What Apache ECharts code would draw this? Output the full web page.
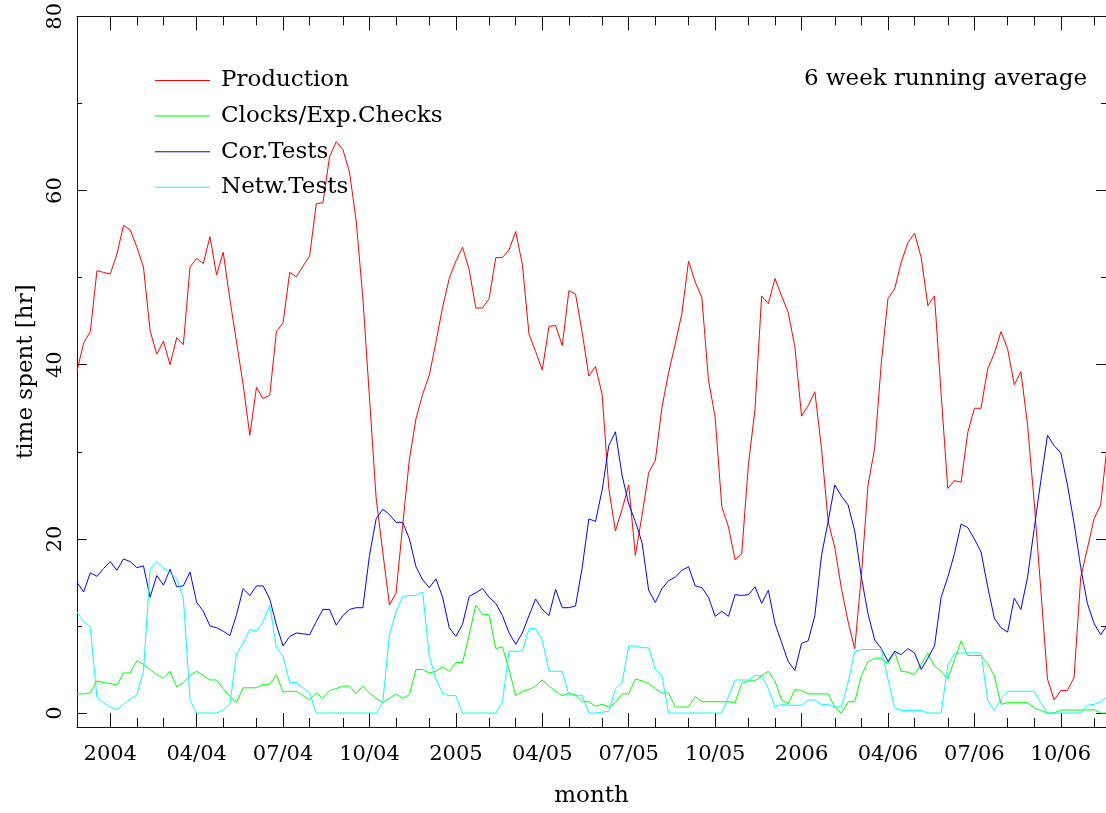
<!DOCTYPE html>
<html><head><meta charset="utf-8">
<script src="https://cdn.jsdelivr.net/npm/echarts@6/dist/echarts.min.js"></script>
<style>html,body{margin:0;padding:0;background:#fff}#c{width:1106px;height:813px}</style>
</head><body><div id="c"></div>
<script>
// weekly points, 6 week running average (week index 0 = first point)
const production = [39.3,42.5,43.8,50.8,50.6,50.4,52.7,56.0,55.5,53.5,
51.2,43.9,41.2,42.7,40.0,43.1,42.3,51.2,52.2,51.6,
54.7,50.3,52.9,47.5,42.6,37.7,31.9,37.4,36.1,36.5,
43.8,44.8,50.6,50.1,51.3,52.5,58.5,58.6,63.9,65.6,
64.7,62.1,56.5,47.7,36.2,24.7,18.5,12.4,13.8,21.6,
29.1,33.8,36.6,38.8,42.6,46.6,49.9,51.9,53.5,50.9,
46.5,46.5,47.6,52.3,52.3,53.2,55.3,51.5,43.5,41.5,
39.4,44.4,44.5,42.2,48.5,48.1,43.7,38.7,39.8,36.6,
25.8,20.9,23.4,26.2,18.1,22.7,27.6,29.0,35.1,39.1,
42.4,45.9,51.9,49.5,47.7,38.2,34.0,23.7,21.4,17.6,
18.3,28.5,34.9,47.9,47.0,49.9,47.9,46.0,42.0,34.1,
35.3,36.9,30.4,22.0,19.0,14.3,10.5,7.4,15.8,26.2,
30.4,40.2,47.6,48.7,51.8,54.0,55.1,52.3,46.8,47.9,
36.6,25.8,26.7,26.5,32.2,35.0,35.0,39.5,41.3,43.8,
41.8,37.7,39.2,33.1,24.2,14.1,3.9,1.5,2.6,2.6,
4.1,15.6,18.9,22.3,23.9,30.9];

const clocks = [2.2,2.2,2.3,3.7,3.5,3.4,3.2,4.6,4.6,6.0,
5.6,5.0,4.4,4.0,4.8,3.0,3.5,4.3,4.8,4.3,
3.8,3.8,2.8,1.9,1.2,2.9,2.9,2.9,3.3,3.3,
4.4,2.4,2.5,2.5,2.0,1.5,2.3,1.7,2.6,2.8,
3.1,3.1,2.2,3.1,2.3,1.7,1.2,1.7,2.2,1.7,
2.1,5.0,5.0,4.6,4.8,5.3,4.8,5.8,5.8,9.0,
12.4,11.3,11.3,7.4,7.6,5.0,2.0,2.5,2.7,3.1,
3.8,3.1,2.5,2.0,2.3,2.1,1.3,1.3,0.8,1.0,
0.7,1.2,2.2,2.2,3.9,3.7,3.4,2.8,2.3,2.3,
0.7,0.7,0.7,1.9,1.3,1.3,1.3,1.3,1.3,1.2,
3.4,3.7,3.7,4.3,4.8,3.7,1.5,1.1,2.7,2.6,
2.2,2.2,2.2,2.2,0.7,0.0,1.3,1.3,4.3,5.9,
6.3,6.3,5.7,7.0,4.8,4.7,4.4,5.6,6.9,5.4,
4.8,3.9,6.1,8.3,6.6,6.6,6.6,5.7,4.3,1.0,
1.2,1.2,1.2,1.2,0.6,0.3,0.0,0.0,0.35,0.35,
0.35,0.35,0.35,0.4,0.0,0.0];

const corTests = [15.0,13.9,16.1,15.7,16.6,17.4,16.4,17.7,17.4,16.7,
16.9,13.3,15.8,14.7,16.5,14.5,14.6,16.2,12.7,11.7,
10.0,9.8,9.4,8.9,11.3,14.3,13.5,14.6,14.6,13.1,
10.1,7.7,8.8,9.2,9.1,9.0,10.5,11.9,11.9,10.1,
11.2,11.9,12.1,12.1,18.1,22.3,23.4,22.8,21.9,21.9,
20.0,16.8,15.3,14.4,15.4,13.3,9.8,8.8,10.2,13.4,
13.8,14.3,13.3,12.6,11.2,9.2,7.9,9.2,11.2,13.1,
11.9,11.2,14.2,12.1,12.1,12.3,16.7,22.3,22.0,25.6,
30.7,32.3,27.3,24.0,22.0,19.6,14.1,12.7,14.3,15.2,
15.6,16.4,16.8,14.6,14.4,13.3,11.1,11.7,11.1,13.6,
13.5,13.6,14.5,12.6,14.1,10.3,8.1,5.9,4.9,8.0,
8.3,11.2,18.1,22.0,26.2,24.9,23.9,20.9,15.6,11.4,
8.4,7.4,5.9,7.1,6.7,7.4,6.9,5.0,6.3,7.7,
13.3,15.6,18.3,21.7,21.3,20.0,18.5,14.5,10.9,9.8,
9.3,13.2,11.9,15.6,21.2,26.7,31.9,30.7,29.9,26.2,
21.8,16.7,12.6,10.3,9.0,10.1];

const netwTests = [11.6,10.5,9.9,1.8,1.2,0.7,0.4,1.0,1.6,2.1,
4.8,16.5,17.4,16.7,16.1,15.4,13.2,1.5,0,0,
0,0,0.35,1.0,6.8,8.0,9.6,9.4,10.5,12.4,
7.5,6.5,3.5,3.5,2.9,2.3,0,0,0,0,
0,0,0,0,0,0,1.2,9.0,11.6,13.4,
13.5,13.5,13.9,6.5,3.9,2.3,2.0,2.0,0,0,
0,0,0,0,1.3,7.1,7.1,7.1,9.7,9.7,
8.4,4.8,4.8,4.8,2.1,2.0,2.0,0,0,0.1,
0.2,2.8,3.5,7.7,7.7,7.5,7.5,5.0,4.3,0,
0,0,0,0,0,0,0,0,1.9,3.8,
3.8,3.8,4.3,4.3,2.8,0.7,1.0,0.9,0.9,0.9,
1.5,1.5,1.0,1.0,0.7,0.7,3.5,7.1,7.3,7.3,
7.3,7.3,3.9,0.6,0.3,0.3,0.3,0.3,0,0,
0,5.5,6.8,6.9,6.9,6.9,6.9,1.5,0.3,1.6,
2.5,2.5,2.5,2.5,2.5,1.2,0,0,0,0,
0,0,0.9,1.0,1.3,1.9];

const seriesNames = ['Production','Clocks/Exp.Checks','Cor.Tests','Netw.Tests'];
const seriesColors = ['#ff0000','#00ff00','#0000ff','#00ffff'];

// x tick positions (week index) and labels
const quarterWeeks = [5,18,31,44,57,70,83,96,109,122,135,148];
const quarterLabels = ['2004','04/04','07/04','10/04','2005','04/05','07/05','10/05','2006','04/06','07/06','10/06'];
const monthWeeks = [9,13,22,27,35,40,48,53,62,66,74,79,87,92,101,105,114,118,126,131,140,144,153];
const yMajor = [0,20,40,60,80];
const yMinor = [10,30,50,70];

const FONT = 'DejaVu Serif';
const XMAX = 154.8, YMIN = -1.6, YMAX = 80;
const AX = '#111';

function xAx(pos, ticks, len, labels) {
  return {
    type: 'value', position: pos, min: 0, max: XMAX,
    axisLine: { show: labels, onZero: false, lineStyle: { color: AX, width: 1 } },
    axisTick: { inside: true, length: len, customValues: ticks, lineStyle: { color: AX, width: 1 } },
    axisLabel: labels && pos === 'bottom' ? {
      customValues: quarterWeeks,
      formatter: v => quarterLabels[quarterWeeks.indexOf(v)],
      color: '#000', fontFamily: FONT, fontSize: 21, margin: 17
    } : { show: false },
    splitLine: { show: false }
  };
}
function yAx(pos, ticks, len, labels) {
  return {
    type: 'value', position: pos, min: YMIN, max: YMAX,
    axisLine: { show: labels, onZero: false, lineStyle: { color: AX, width: 1 } },
    axisTick: { inside: true, length: len, customValues: ticks, lineStyle: { color: AX, width: 1 } },
    axisLabel: labels && pos === 'left' ? {
      customValues: yMajor, rotate: 90,
      color: '#000', fontFamily: FONT, fontSize: 21, margin: 11
    } : { show: false },
    splitLine: { show: false }
  };
}

const xAxes = [xAx('bottom', quarterWeeks, 14, true), xAx('bottom', monthWeeks, 9, false),
               xAx('top', quarterWeeks, 14, true), xAx('top', monthWeeks, 9, false)];
Object.assign(xAxes[0], { name: 'month', nameLocation: 'middle', nameGap: 58,
  nameTextStyle: { fontFamily: FONT, fontSize: 23, color: '#000' } });
const yAxes = [yAx('left', yMajor, 10, true), yAx('left', yMinor, 5, false),
               yAx('right', yMajor, 10, true), yAx('right', yMinor, 5, false)];
Object.assign(yAxes[0], { name: 'time spent [hr]', nameLocation: 'middle', nameGap: 31,
  nameTextStyle: { fontFamily: FONT, fontSize: 23, color: '#000' } });

const allData = [production, clocks, corTests, netwTests];
const chart = echarts.init(document.getElementById('c'), null, { renderer: 'canvas' });
chart.setOption({
  animation: false,
  backgroundColor: '#fff',
  grid: { left: 77, right: 0, top: 15, bottom: 78 },
  title: { text: '6 week running average', right: 19, top: 68, padding: 0,
    textStyle: { fontFamily: FONT, fontSize: 23, fontWeight: 'normal', color: '#000' } },
  legend: {
    data: seriesNames, orient: 'vertical', left: 150, top: 64,
    icon: 'rect', itemWidth: 55, itemHeight: 1, itemGap: 12.6,
    textStyle: { fontFamily: FONT, fontSize: 23, color: '#000', padding: [0, 0, 0, 6] }
  },
  xAxis: xAxes,
  yAxis: yAxes,
  series: allData.map((arr, k) => ({
    name: seriesNames[k], type: 'line', xAxisIndex: 0, yAxisIndex: 0,
    symbol: 'none', showSymbol: false, clip: true,
    lineStyle: { color: seriesColors[k], width: 1 },
    itemStyle: { color: seriesColors[k] },
    data: arr.map((v, i) => [i, v])
  }))
});
</script></body></html>
